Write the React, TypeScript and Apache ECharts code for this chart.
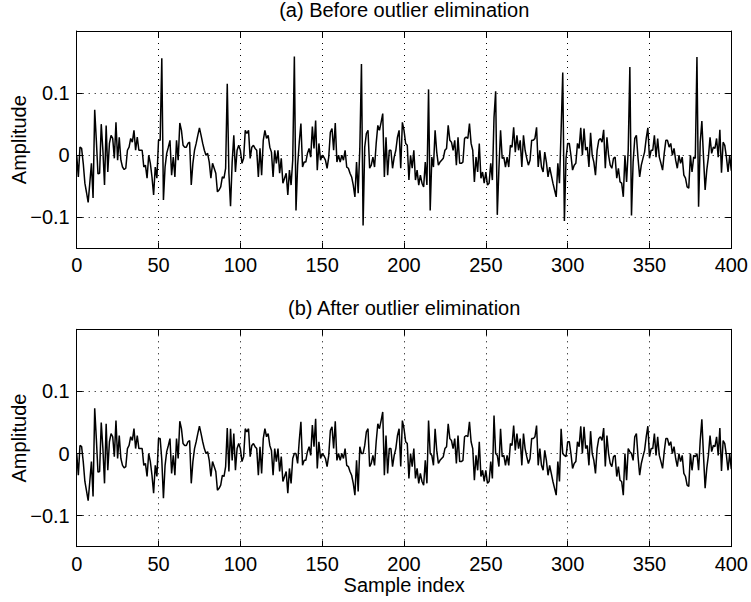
import React, { useEffect, useRef } from "react";
import * as echarts from "echarts";

// Signal after outlier elimination (samples 0..400)
const afterValues: number[] = [
  0, -0.035, 0.013, 0.011, -0.013, -0.045, -0.060, -0.076, -0.045, -0.013,
  -0.069, 0.073, 0.024, -0.030, -0.029, 0.050, 0.008, -0.048, 0.048, -0.027,
  0.019, 0.032, 0.027, -0.005, 0.053, -0.008, 0.029, -0.008, -0.019, -0.023,
  -0.021, 0.008, 0.013, 0.027, 0.021, 0.040, 0.008, 0.029, 0.008, 0.008,
  0.008, -0.019, -0.016, -0.037, 0, -0.013, -0.035, -0.064, -0.019, -0.037,
  0.024, 0.024, -0.010, -0.072, -0.019, 0.003, 0.013, 0.024, -0.032, -0.003,
  -0.035, 0.024, -0.008, 0.052, 0.040, 0.016, 0.013, 0.013, 0.019, 0.021,
  -0.048, -0.013, 0.008, 0.019, 0.032, 0.044, 0.032, 0.019, 0.008, 0,
  0.003, -0.011, -0.037, -0.013, -0.021, -0.029, -0.059, -0.056, -0.051, -0.035,
  -0.037, -0.021, 0.041, -0.029, 0.040, -0.011, 0.032, -0.027, 0.008, 0.016,
  0.008, -0.013, -0.005, 0.040, 0.035, 0.040, -0.005, 0.013, 0.016, 0.011,
  0.008, -0.035, 0.011, -0.032, 0.024, 0.040, 0.027, 0.032, 0.013, 0.005,
  -0.035, 0.008, -0.013, 0.008, -0.029, -0.005, -0.045, -0.037, -0.029, -0.064,
  -0.024, -0.048, -0.008, 0, 0, -0.016, 0.021, 0.051, -0.019, -0.011,
  -0.011, 0.003, 0.011, -0.003, 0.046, 0.011, 0.056, -0.024, 0.019, -0.008,
  0, -0.003, -0.008, -0.021, -0.003, 0.037, 0.043, 0.008, 0.052, -0.011,
  0, -0.011, 0, -0.008, 0.008, -0.019, -0.021, -0.029, -0.035, -0.048,
  -0.067, -0.011, -0.061, 0.011, 0, 0, 0.013, 0.035, 0.040, -0.021,
  -0.016, -0.003, -0.019, 0.019, 0.048, 0.040, 0.053, 0.067, -0.035, 0.029,
  -0.032, 0.008, 0.008, -0.021, -0.003, 0.008, 0.029, 0.040, -0.021, 0.053,
  0.040, 0.019, 0.016, -0.040, 0, -0.021, 0.008, -0.040, -0.024, -0.048,
  -0.032, -0.045, -0.051, -0.011, -0.048, 0.053, 0, -0.003, -0.019, 0.040,
  0.005, -0.016, -0.011, -0.008, -0.005, 0.008, 0.011, 0.048, 0.024, 0.021,
  0.008, 0.024, -0.016, 0.029, -0.013, -0.013, -0.011, 0.027, 0.029, 0.027,
  0.051, 0.019, 0.008, -0.043, -0.003, -0.027, 0.019, -0.037, -0.027, -0.045,
  -0.027, -0.048, -0.045, -0.013, -0.040, 0.061, 0, -0.003, -0.021, 0.040,
  -0.005, -0.003, -0.019, -0.003, -0.019, 0.016, 0.013, 0.045, 0.005, 0.032,
  0.008, 0.024, -0.019, 0.032, 0.008, -0.005, -0.016, -0.008, 0.024, 0.024,
  0.027, 0.045, -0.019, 0.008, -0.019, -0.027, 0.005, -0.011, -0.035, -0.019,
  -0.032, -0.045, -0.056, -0.067, -0.013, -0.045, 0.040, 0, -0.003, -0.005,
  0.019, 0.019, 0, -0.024, -0.016, -0.013, 0.019, 0.011, 0.044, 0,
  0.043, 0.008, 0.013, -0.019, 0.036, 0, -0.011, -0.032, 0.008, 0.024,
  0.027, 0.021, 0.041, -0.021, 0.029, 0, -0.016, -0.021, -0.005, -0.003,
  -0.037, -0.021, -0.043, -0.045, -0.067, 0, -0.043, 0.008, 0.003, 0,
  -0.011, 0.027, 0.032, -0.005, -0.035, -0.016, -0.005, 0.005, 0.027, 0.044,
  -0.005, 0.008, 0.008, 0.032, -0.003, 0.027, -0.003, -0.013, -0.024, 0.003,
  0.024, 0.024, 0.013, 0.019, 0, 0.011, -0.008, -0.021, 0, -0.013,
  -0.003, -0.032, -0.037, -0.051, -0.053, 0, -0.027, -0.003, -0.005, 0,
  -0.027, 0.021, 0.055, -0.003, -0.056, -0.024, -0.003, 0.029, 0.003, 0.013,
  0.011, 0.027, -0.003, 0.041, -0.028, 0.021, 0.016, -0.003, -0.027, 0,
  -0.025,
];

// Outlier samples present before elimination
const outlierIndex: number[] = [52, 92, 94, 133, 134, 174, 175, 215, 216, 256, 257, 297, 298, 338, 339, 379, 380];
const outlierValues: number[] = [0.156, 0.115, -0.082, 0.159, -0.089, 0.147, -0.113, 0.106, -0.089, 0.103, -0.096, 0.133, -0.106, 0.142, -0.097, 0.158, -0.083];

const xTicks = { min: 0, max: 400, interval: 50 };
const yTickValues: number[] = [-0.1, 0, 0.1];
const yRange = { min: -0.15, max: 0.2 };

const titles = ["(a) Before outlier elimination", "(b) After outlier elimination"];
const yLabel = "Amplitude";
const xLabel = "Sample index";

const FONT = "'Liberation Sans', Arial, Helvetica, sans-serif";

export default function App() {
  const ref = useRef<HTMLDivElement>(null);

  useEffect(() => {
    if (!ref.current) return;
    const chart = echarts.init(ref.current, undefined, { renderer: "svg" });

    const beforeValues = afterValues.slice();
    outlierIndex.forEach((idx, k) => {
      beforeValues[idx] = outlierValues[k];
    });
    const toPairs = (arr: number[]) => arr.map((v, i) => [i, v]);

    const L = 76.7;
    const W = 655;
    const tops = [31, 329.3];
    const H = 217.4;

    const fmt = (v: number) => {
      const r = Math.round(v * 1000) / 1000;
      if (r === 0) return "0";
      return r < 0 ? "\u2212" + String(Math.abs(r)) : String(r);
    };

    const dotted = { color: "#000", width: 1, type: [1, 5] as any };

    const xAxes: any[] = [];
    const yAxes: any[] = [];
    [0, 1].forEach((g) => {
      xAxes.push({
        type: "value",
        gridIndex: g,
        position: "bottom",
        min: xTicks.min,
        max: xTicks.max,
        interval: xTicks.interval,
        axisLine: { show: true, onZero: false, lineStyle: { color: "#000", width: 1 } },
        axisTick: { show: true, inside: true, length: 6, lineStyle: { color: "#000" } },
        axisLabel: { show: true, color: "#000", fontSize: 20, fontFamily: FONT, margin: 7 },
        splitLine: { show: true, lineStyle: dotted },
      });
      xAxes.push({
        type: "value",
        gridIndex: g,
        position: "top",
        min: xTicks.min,
        max: xTicks.max,
        interval: xTicks.interval,
        axisLine: { show: true, onZero: false, lineStyle: { color: "#000", width: 1 } },
        axisTick: { show: true, inside: true, length: 6, lineStyle: { color: "#000" } },
        axisLabel: { show: false },
        splitLine: { show: false },
      });
      yAxes.push({
        type: "value",
        gridIndex: g,
        position: "left",
        min: yRange.min,
        max: yRange.max,
        axisLine: { show: true, onZero: false, lineStyle: { color: "#000", width: 1 } },
        axisTick: { show: true, inside: true, length: 6, customValues: yTickValues, lineStyle: { color: "#000" } },
        axisLabel: {
          show: true,
          customValues: yTickValues,
          formatter: fmt,
          color: "#000",
          fontSize: 20,
          fontFamily: FONT,
          margin: 7,
        },
        splitLine: { show: false },
      });
      yAxes.push({
        type: "value",
        gridIndex: g,
        position: "right",
        min: yRange.min,
        max: yRange.max,
        axisLine: { show: true, onZero: false, lineStyle: { color: "#000", width: 1 } },
        axisTick: { show: true, inside: true, length: 6, customValues: yTickValues, lineStyle: { color: "#000" } },
        axisLabel: { show: false },
        splitLine: { show: false },
      });
    });

    const makeSeries = (data: number[], g: number) => ({
      type: "line",
      xAxisIndex: g * 2,
      yAxisIndex: g * 2,
      data: toPairs(data),
      showSymbol: false,
      symbol: "none",
      lineStyle: { color: "#000", width: 1.5 },
      silent: true,
      markLine: {
        silent: true,
        symbol: ["none", "none"],
        label: { show: false },
        lineStyle: dotted,
        data: yTickValues.map((v) => ({ yAxis: v })),
      },
    });

    const graphics: any[] = [];
    tops.forEach((t, g) => {
      graphics.push({
        type: "text",
        x: L + W / 2,
        y: t - 21.5,
        style: {
          text: titles[g],
          textAlign: "center",
          textVerticalAlign: "middle",
          fontSize: 20,
          fontFamily: FONT,
          fill: "#000",
        },
      });
      graphics.push({
        type: "text",
        x: 18.5,
        y: t + H / 2,
        rotation: Math.PI / 2,
        style: {
          text: yLabel,
          textAlign: "center",
          textVerticalAlign: "middle",
          fontSize: 20,
          fontFamily: FONT,
          fill: "#000",
        },
      });
    });
    graphics.push({
      type: "text",
      x: L + W / 2,
      y: 585,
      style: {
        text: xLabel,
        textAlign: "center",
        textVerticalAlign: "middle",
        fontSize: 20,
        fontFamily: FONT,
        fill: "#000",
      },
    });

    chart.setOption({
      animation: false,
      backgroundColor: "#fff",
      grid: tops.map((t) => ({ left: L, top: t, width: W, height: H, containLabel: false })),
      xAxis: xAxes,
      yAxis: yAxes,
      series: [makeSeries(beforeValues, 0), makeSeries(afterValues, 1)],
      graphic: graphics,
    });

    return () => {
      chart.dispose();
    };
  }, []);

  return (
    <div
      ref={ref}
      style={{ position: "fixed", left: 0, top: 0, width: 751, height: 602, background: "#fff" }}
    />
  );
}
